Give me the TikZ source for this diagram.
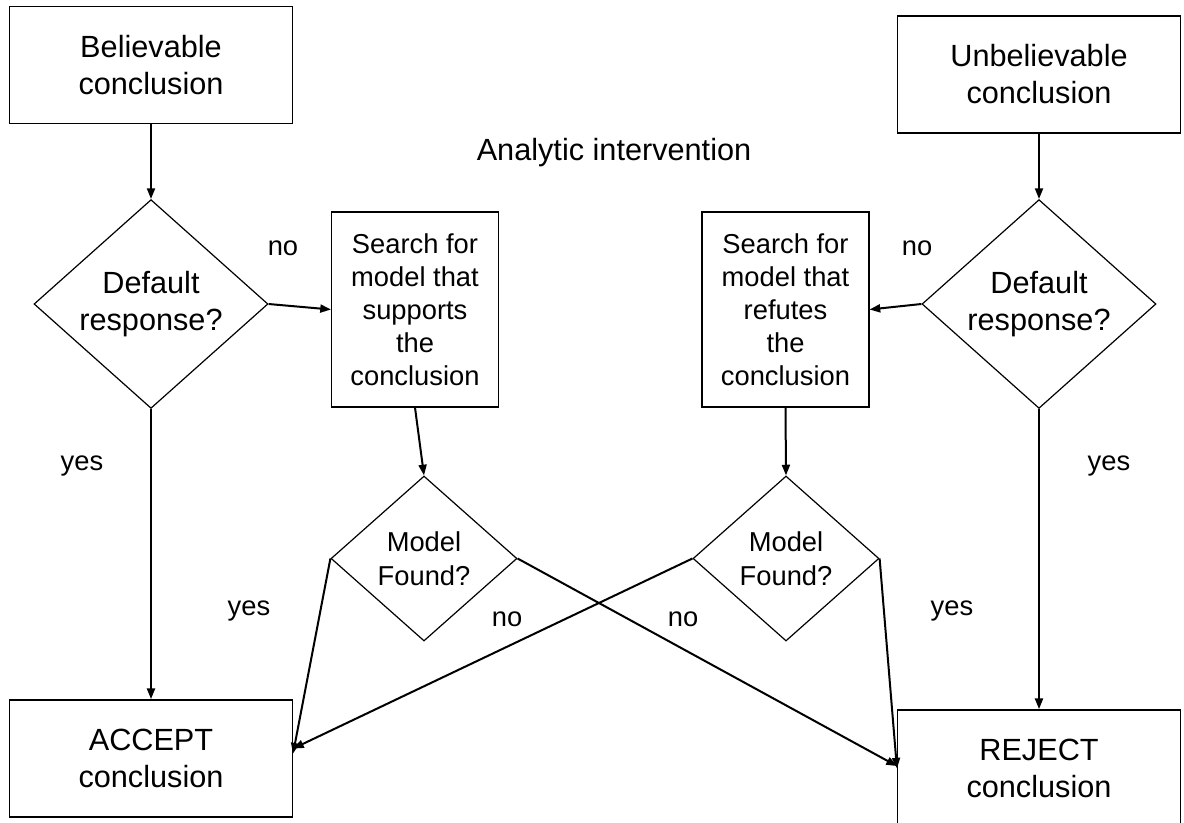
\documentclass[tikz,border=0pt]{standalone}
\usepackage{fontspec}
\setmainfont{Liberation Sans}
\usetikzlibrary{shapes.geometric,arrows.meta}
\begin{document}
\begin{tikzpicture}[x=0.75pt,y=-0.75pt,
        bigbox/.style={draw,line width=1.1pt,minimum width=212pt,minimum height=88pt,
                       inner sep=0pt,align=center,font={\fontsize{23}{27.75}\selectfont}},
        srchbox/.style={draw,line width=1.1pt,minimum width=125pt,minimum height=146pt,
                        inner sep=0pt,align=center,font={\fontsize{20.5}{24.75}\selectfont}},
        bigdia/.style={draw,diamond,line width=0.9pt,minimum width=175.5pt,minimum height=153.75pt,
                       inner sep=0pt,align=center,font={\fontsize{23}{27.75}\selectfont}},
        smalldia/.style={draw,diamond,line width=0.9pt,minimum width=139.5pt,minimum height=123.75pt,
                         inner sep=0pt,align=center,font={\fontsize{20.5}{25.5}\selectfont}},
        lbl/.style={anchor=base,inner sep=0pt,font={\fontsize{20.5}{24.75}\selectfont}},
        arr/.style={-{Triangle[length=8pt,width=6pt]},line width=1.5pt}]
    \useasboundingbox (0,0) rectangle (1184,822);
    \node[bigbox] (bel) at (151,65) {Believable\\conclusion};
    \node[bigbox] (unbel) at (1039,74.5) {Unbelievable\\conclusion};
    \node[bigdia] (dL) at (151,304) {Default\\response?};
    \node[bigdia] (dR) at (1039,304) {Default\\response?};
    \node[srchbox] (sL) at (415,309.5) {Search for\\model that\\supports\\the\\conclusion};
    \node[srchbox] (sR) at (785.5,309.5) {Search for\\model that\\refutes\\the\\conclusion};
    \node[smalldia] (mL) at (424,558.5) {Model\\Found?};
    \node[smalldia] (mR) at (786,558.5) {Model\\Found?};
    \node[bigbox] (acc) at (151,758.5) {ACCEPT\\conclusion};
    \node[bigbox] (rej) at (1039,768.5) {REJECT\\conclusion};
    \node[lbl,font={\fontsize{23}{27.75}\selectfont}] (analytic) at (614,160) {Analytic intervention};
    \foreach \x/\y/\t [count=\i] in {283/255/no, 917/255/no, 82/470/yes, 1109/470/yes,
                                     249/615/yes, 507/626/no, 683/626/no, 952/615/yes}
        \node[lbl] (lab\i) at (\x,\y) {\t};
    \draw[arr] (bel) -- (dL);
    \draw[arr] (unbel) -- (dR);
    \draw[arr] (dL.east) -- (sL.west);
    \draw[arr] (dR.west) -- (sR.east);
    \draw[arr] (sL.south) -- (mL.north);
    \draw[arr] (sR.south) -- (mR.north);
    \draw[arr] (dL.south) -- (acc.north);
    \draw[arr] (dR.south) -- (rej.north);
    \draw[arr] (mL.west) -- (acc.2);
    \draw[arr] (mR.west) -- (acc.4);
    \draw[arr] (mL.east) -- (rej.179);
    \draw[arr] (mR.east) -- (rej.west);
\end{tikzpicture}
\end{document}
